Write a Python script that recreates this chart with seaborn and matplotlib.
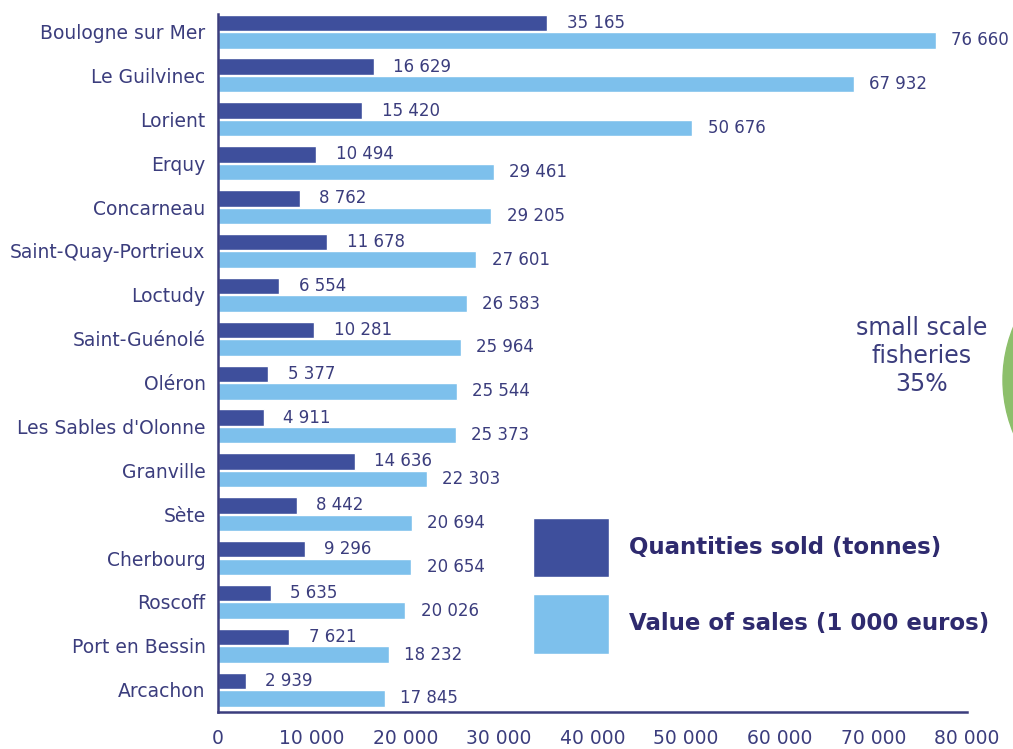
import matplotlib
import matplotlib.pyplot as plt
import pandas as pd
import seaborn as sns
from matplotlib.patches import Circle

matplotlib.use('Agg')

# data
ports = ["Boulogne sur Mer", "Le Guilvinec", "Lorient", "Erquy", "Concarneau",
         "Saint-Quay-Portrieux", "Loctudy", "Saint-Guénolé", "Oléron",
         "Les Sables d'Olonne", "Granville", "Sète", "Cherbourg", "Roscoff",
         "Port en Bessin", "Arcachon"]
quantities = [35165, 16629, 15420, 10494, 8762, 11678, 6554, 10281, 5377,
              4911, 14636, 8442, 9296, 5635, 7621, 2939]
values = [76660, 67932, 50676, 29461, 29205, 27601, 26583, 25964, 25544,
          25373, 22303, 20694, 20654, 20026, 18232, 17845]
series = ["Quantities sold (tonnes)", "Value of sales (1 000 euros)"]
xticks = [0, 10000, 20000, 30000, 40000, 50000, 60000, 70000, 80000]

dark = "#3e4f9c"
light = "#7dc0ec"
txt = "#3b3d7d"

df = pd.DataFrame({
    "port": ports * 2,
    "amount": quantities + values,
    "series": [series[0]] * len(ports) + [series[1]] * len(ports),
})


def fmt(v):
    return f"{v:,}".replace(",", " ")


sns.set_style("white")
plt.rcParams['font.family'] = ['DejaVu Sans']

fig = plt.figure(figsize=(10.13, 7.49), dpi=100)
ax = fig.add_axes([218 / 1013, 37 / 749, 749 / 1013, 698 / 749])

sns.barplot(data=df, y="port", x="amount", hue="series", orient="h",
            palette=[dark, light], width=0.8, gap=0.06, saturation=1,
            ax=ax, legend=True)

# value labels to the right of each bar
for cont, vals, pad in zip(ax.containers, [quantities, values], [14, 11]):
    ax.bar_label(cont, labels=[fmt(v) for v in vals], padding=pad,
                 fontsize=12, color=txt)

ax.set_xlim(0, 80000)
ax.set_ylim(15.51, -0.40)
ax.set_xticks(xticks)
ax.set_xticklabels([fmt(v) for v in xticks], fontsize=13.5, color=txt)
ax.set_xlabel("")
ax.set_ylabel("")
ax.tick_params(axis="x", direction="in", length=11, width=1.8, color=txt, pad=12)
ax.tick_params(axis="y", length=0, pad=9, labelsize=13.5, labelcolor=txt)

for s in ["top", "right"]:
    ax.spines[s].set_visible(False)
for s in ["left", "bottom"]:
    ax.spines[s].set_color(txt)
    ax.spines[s].set_linewidth(1.8)

handles, labels = ax.get_legend_handles_labels()
ax.legend(handles, labels, loc="upper left", bbox_to_anchor=(533 / 1013, 1 - 518 / 749),
          bbox_transform=fig.transFigure, frameon=False,
          handlelength=3.3, handleheight=3.6, labelspacing=0.75, handletextpad=0.9,
          borderpad=0, borderaxespad=0, prop={"weight": "heavy", "size": 16.5})
for t in ax.get_legend().get_texts():
    t.set_color("#2e2a6e")

# side note and part of the pie that sits off the right edge
fig.text(922 / 1013, 1 - 356 / 749, "small scale\nfisheries\n35%", ha="center",
         va="center", fontsize=17, color=txt, linespacing=1.22)
fig.patches.append(Circle((1253 / 1013, 1 - 380 / 749), 250 / 1013,
                          transform=fig.transFigure, color="#8dbf6b", zorder=0))

fig.savefig("out.png", dpi=100)
